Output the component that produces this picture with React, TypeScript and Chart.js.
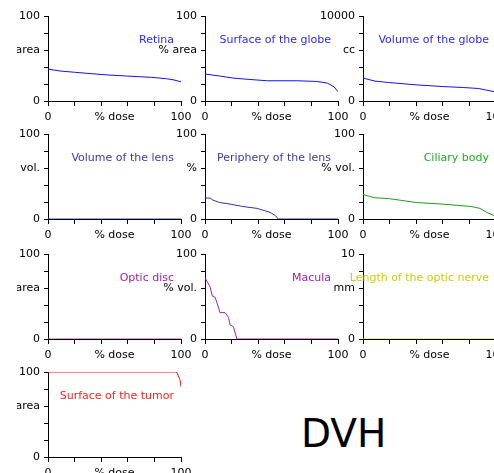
import React, { useEffect, useRef } from "react";
import { Chart, registerables } from "chart.js";

Chart.register(...registerables);

// ---- data (x = % dose, y = value) ----
const retinaX = [0, 4, 9, 20, 30, 45, 59, 78, 89, 94, 100];
const retinaY = [37.7, 36.5, 35.3, 33.8, 32.5, 30.6, 29.4, 27.8, 26.2, 25, 22.6];

const surfGlobeX = [0, 11, 21, 33, 47, 69, 84, 92, 97, 100];
const surfGlobeY = [31.7, 29.4, 27, 25.4, 23.8, 23.8, 23, 21, 16.7, 11];

const volGlobeX = [0, 9, 19, 40, 60, 75, 87, 93, 98.5, 100];
const volGlobeY = [2700, 2340, 2180, 1900, 1700, 1590, 1470, 1270, 1100, 1050];

const lensX = [0, 100];
const lensY = [0, 0];

const periLensX = [0, 4, 6, 11, 19, 28, 39, 45, 49, 53, 55, 100];
const periLensY = [24.9, 24.5, 22.2, 19.4, 17.5, 14.8, 12.5, 9.7, 7.8, 3.9, 0, 0];

const ciliaryX = [0, 9, 19, 40, 60, 81, 88, 93, 98.7, 100];
const ciliaryY = [28.8, 24.9, 24.1, 19.4, 17.5, 14.8, 12.5, 7.8, 3.9, 2.5];

const opticDiscX = [0, 100];
const opticDiscY = [0, 0];

const maculaX = [0, 3.8, 5.5, 7.6, 9.3, 11.3, 15.1, 17.6, 18.9, 21.4, 24, 100];
const maculaY = [72.1, 61.5, 50.6, 49, 41.2, 31, 31, 25.5, 16.5, 14.5, 0, 0];

const nerveX = [0, 100];
const nerveY = [0, 0];

const tumorX = [0, 96.7, 99.2, 100];
const tumorY = [100, 100, 91, 82.8];

const xTicks = [0, 20, 40, 50, 60, 80, 100];

type Panel = {
  title: string;
  unit: string;
  max: number;
  color: string;
  lineColor: string;
  xs: number[];
  ys: number[];
  col: number;
  row: number;
};

const panels: Panel[] = [
  { title: "Retina", unit: "% area", max: 100, color: "#2a2aff", lineColor: "#1010ff", xs: retinaX, ys: retinaY, col: 0, row: 0 },
  { title: "Surface of the globe", unit: "% area", max: 100, color: "#2a2aff", lineColor: "#1010ff", xs: surfGlobeX, ys: surfGlobeY, col: 1, row: 0 },
  { title: "Volume of the globe", unit: "cc", max: 10000, color: "#2a2aff", lineColor: "#1010ff", xs: volGlobeX, ys: volGlobeY, col: 2, row: 0 },
  { title: "Volume of the lens", unit: "% vol.", max: 100, color: "#3a3aa8", lineColor: "#4848c0", xs: lensX, ys: lensY, col: 0, row: 1 },
  { title: "Periphery of the lens", unit: "%", max: 100, color: "#3a3aa8", lineColor: "#3030a8", xs: periLensX, ys: periLensY, col: 1, row: 1 },
  { title: "Ciliary body", unit: "% vol.", max: 100, color: "#22aa22", lineColor: "#18a018", xs: ciliaryX, ys: ciliaryY, col: 2, row: 1 },
  { title: "Optic disc", unit: "% area", max: 100, color: "#a020a8", lineColor: "#b040b0", xs: opticDiscX, ys: opticDiscY, col: 0, row: 2 },
  { title: "Macula", unit: "% vol.", max: 100, color: "#a020a8", lineColor: "#a020a8", xs: maculaX, ys: maculaY, col: 1, row: 2 },
  { title: "Length of the optic nerve", unit: "mm", max: 10, color: "#cccc10", lineColor: "#d8d840", xs: nerveX, ys: nerveY, col: 2, row: 2 },
  { title: "Surface of the tumor", unit: "% area", max: 100, color: "#ff2020", lineColor: "#ff1010", xs: tumorX, ys: tumorY, col: 0, row: 3 },
];

const CW = 200;
const CH = 135;
const colLeft = [0, 157, 315];
const rowTop = [0, 118, 238, 356];
const FONT = { family: "DejaVu Sans", size: 11 };

const titlePlugin = {
  id: "panelTitle",
  afterDatasetsDraw(chart: any, _args: any, opts: any) {
    const { ctx, chartArea } = chart;
    ctx.save();
    ctx.font = "11px 'DejaVu Sans'";
    ctx.fillStyle = opts.color;
    ctx.textAlign = "right";
    ctx.textBaseline = "middle";
    ctx.fillText(opts.text, chartArea.right - 7, chartArea.top + 24);
    ctx.restore();
  },
};

function PanelChart({ p }: { p: Panel }) {
  const ref = useRef<HTMLCanvasElement>(null);
  useEffect(() => {
    if (!ref.current) return;
    const yTicks = [0, 0.2, 0.4, 0.6, 0.8, 1].map((f) => f * p.max);
    const chart = new Chart(ref.current, {
      type: "line",
      data: {
        datasets: [
          {
            data: p.xs.map((x, i) => ({ x, y: p.ys[i] })),
            borderColor: p.lineColor,
            borderWidth: 1,
            pointRadius: 0,
            tension: 0,
            fill: false,
          },
        ],
      },
      options: {
        animation: false,
        responsive: false,
        events: [],
        layout: { padding: { top: 16, left: 0, right: CW - 48 - 133, bottom: CH - 16 - 85 - 20 } },
        plugins: {
          legend: { display: false },
          tooltip: { enabled: false },
          panelTitle: { text: p.title, color: p.color },
        } as any,
        scales: {
          x: {
            type: "linear",
            min: 0,
            max: 100,
            afterBuildTicks: (s: any) => {
              s.ticks = xTicks.map((v) => ({ value: v }));
            },
            afterFit: (s: any) => {
              s.height = 20;
            },
            ticks: {
              autoSkip: false,
              maxRotation: 0,
              padding: 5,
              color: "#000",
              font: FONT,
              callback: (v: any) => (v === 0 ? "0" : v === 50 ? "% dose" : v === 100 ? "100" : ""),
            },
            grid: {
              drawOnChartArea: false,
              tickLength: 5,
              tickColor: (c: any) => (c.tick && c.tick.value === 50 ? "rgba(0,0,0,0)" : "#000"),
            },
            border: { color: "#000", width: 1 },
          },
          y: {
            type: "linear",
            min: 0,
            max: p.max,
            afterBuildTicks: (s: any) => {
              s.ticks = yTicks.map((v) => ({ value: v }));
            },
            afterFit: (s: any) => {
              s.width = 48;
            },
            ticks: {
              autoSkip: false,
              padding: 4,
              color: "#000",
              font: FONT,
              callback: (v: any) =>
                v === p.max ? String(p.max) : v === 0 ? "0" : Math.abs(v - 0.6 * p.max) < 1e-9 ? p.unit : "",
            },
            grid: { drawOnChartArea: false, tickLength: 4, tickColor: "#000" },
            border: { color: "#000", width: 1 },
          },
        },
      } as any,
      plugins: [titlePlugin],
    });
    return () => chart.destroy();
  }, [p]);
  return (
    <canvas
      ref={ref}
      width={CW}
      height={CH}
      style={{
        position: "absolute",
        left: colLeft[p.col],
        top: rowTop[p.row],
        width: CW,
        height: CH,
        clipPath: p.col === 0 ? "inset(0px 0px 0px 17px)" : undefined,
      }}
    />
  );
}

export default function App() {
  return (
    <div
      style={{
        position: "absolute",
        left: 0,
        top: 0,
        width: 494,
        height: 473,
        overflow: "hidden",
        background: "#fff",
      }}
    >
      {panels.map((p) => (
        <PanelChart key={p.title} p={p} />
      ))}
      <div
        style={{
          position: "absolute",
          left: 301,
          top: 414,
          fontFamily: "'DejaVu Sans'",
          fontSize: 39,
          lineHeight: "39px",
          color: "#000",
        }}
      >
        DVH
      </div>
    </div>
  );
}
